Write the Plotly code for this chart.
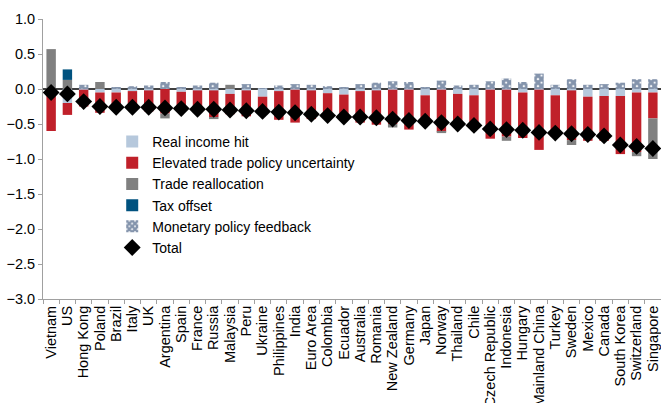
import plotly.graph_objects as go

countries = ["Vietnam", "US", "Hong Kong", "Poland", "Brazil", "Italy", "UK", "Argentina", "Spain",
             "France", "Russia", "Malaysia", "Peru", "Ukraine", "Philippines", "India", "Euro Area",
             "Colombia", "Ecuador", "Australia", "Romania", "New Zealand", "Germany", "Japan", "Norway",
             "Thailand", "Chile", "Czech Republic", "Indonesia", "Hungary", "Mainland China", "Turkey",
             "Sweden", "Mexico", "Canada", "South Korea", "Switzerland", "Singapore"]

real_income_hit = [0.0, -0.20, -0.01, -0.05, -0.05, -0.03, -0.02, 0.0, -0.04,
                   -0.02, -0.02, -0.07, -0.02, -0.11, -0.03, -0.01, -0.02,
                   -0.06, -0.08, -0.03, -0.02, -0.01, -0.01, -0.09, -0.01,
                   -0.07, -0.09, -0.01, -0.01, -0.05, -0.01, -0.09,
                   -0.02, -0.11, -0.10, -0.10, -0.05, -0.05]

trade_uncertainty = [-0.60, -0.17, -0.24, -0.29, -0.23, -0.27, -0.30, -0.35, -0.27,
                     -0.31, -0.38, -0.29, -0.37, -0.22, -0.41, -0.47, -0.41,
                     -0.36, -0.33, -0.45, -0.49, -0.49, -0.57, -0.39, -0.60,
                     -0.45, -0.45, -0.70, -0.67, -0.65, -0.86, -0.59,
                     -0.71, -0.63, -0.64, -0.83, -0.85, -0.37]

trade_reallocation = [0.57, 0.13, 0.0, 0.10, 0.0, 0.0, 0.0, -0.07, 0.0,
                      0.0, -0.03, 0.06, 0.0, 0.0, 0.0, 0.0, 0.0,
                      0.0, 0.0, 0.0, 0.0, -0.05, 0.0, 0.0, -0.02,
                      0.0, 0.0, 0.0, -0.06, 0.0, 0.0, 0.0,
                      -0.07, 0.0, 0.0, 0.0, -0.06, -0.58]

tax_offset = [0.0, 0.15] + [0.0] * 36

monetary_feedback = [0.0, 0.0, 0.06, 0.0, 0.02, 0.04, 0.05, 0.10, 0.02,
                     0.05, 0.09, 0.0, 0.07, 0.01, 0.05, 0.07, 0.06,
                     0.04, 0.02, 0.07, 0.09, 0.11, 0.10, 0.02, 0.12,
                     0.05, 0.06, 0.11, 0.15, 0.10, 0.22, 0.06,
                     0.14, 0.06, 0.07, 0.09, 0.14, 0.14]

total = [-0.05, -0.07, -0.18, -0.25, -0.26, -0.26, -0.26, -0.27, -0.28,
         -0.29, -0.29, -0.30, -0.31, -0.32, -0.33, -0.34, -0.36,
         -0.38, -0.40, -0.40, -0.41, -0.43, -0.45, -0.46, -0.48,
         -0.50, -0.52, -0.57, -0.58, -0.59, -0.62, -0.63,
         -0.64, -0.65, -0.67, -0.80, -0.82, -0.85]

FONT = "Liberation Sans, Arial, sans-serif"
FS = 14.5

fig = go.Figure()
fig.add_trace(go.Bar(name="Real income hit", x=countries, y=real_income_hit,
                     marker=dict(color="#b6c8dc", line=dict(width=0))))
fig.add_trace(go.Bar(name="Elevated trade policy uncertainty", x=countries, y=trade_uncertainty,
                     marker=dict(color="#c0202a", line=dict(width=0))))
fig.add_trace(go.Bar(name="Trade reallocation", x=countries, y=trade_reallocation,
                     marker=dict(color="#808080", line=dict(width=0))))
fig.add_trace(go.Bar(name="Tax offset", x=countries, y=tax_offset,
                     marker=dict(color="#00527f", line=dict(width=0))))
fig.add_trace(go.Bar(name="Monetary policy feedback", x=countries, y=monetary_feedback,
                     marker=dict(color="white", line=dict(width=0),
                                 pattern=dict(shape="x", fgcolor="#0a2a5a", bgcolor="white",
                                              size=5, solidity=0.85))))
fig.add_trace(go.Scatter(name="Total", x=countries, y=total, mode="markers",
                         marker=dict(symbol="diamond", size=13, color="black")))

fig.update_layout(
    width=661, height=403,
    margin=dict(l=43, r=0, t=19, b=104),
    paper_bgcolor="white", plot_bgcolor="white",
    barmode="relative", bargap=0.42,
    font=dict(family=FONT, size=FS, color="black"),
    showlegend=True,
    legend=dict(x=0.112, y=0.618, xanchor="left", yanchor="top",
                traceorder="normal", bgcolor="rgba(0,0,0,0)",
                font=dict(family=FONT, size=14, color="black"),
                tracegroupgap=0, itemwidth=30),
)
fig.update_xaxes(range=[-0.5, len(countries) - 0.5], autorange=False,
                 showgrid=False, showline=True, linecolor="#a0a0a0", linewidth=1,
                 ticks="outside", ticklen=4, tickcolor="#a0a0a0", tickson="boundaries",
                 tickmode="array", tickvals=countries, ticktext=countries,
                 tickangle=-90, automargin=False,
                 tickfont=dict(family=FONT, size=FS, color="black"))
fig.update_yaxes(range=[-3, 1], dtick=0.5, tickformat=".1f", showgrid=False,
                 showline=True, linecolor="#a0a0a0", linewidth=1,
                 ticks="outside", ticklen=4, tickcolor="#a0a0a0", automargin=False,
                 zeroline=True, zerolinecolor="#404040", zerolinewidth=1.5,
                 tickfont=dict(family=FONT, size=FS, color="black"))

fig.write_html("out.html", config={"displayModeBar": False},
               post_script="document.body.style.margin='0';document.body.style.overflow='hidden';")
